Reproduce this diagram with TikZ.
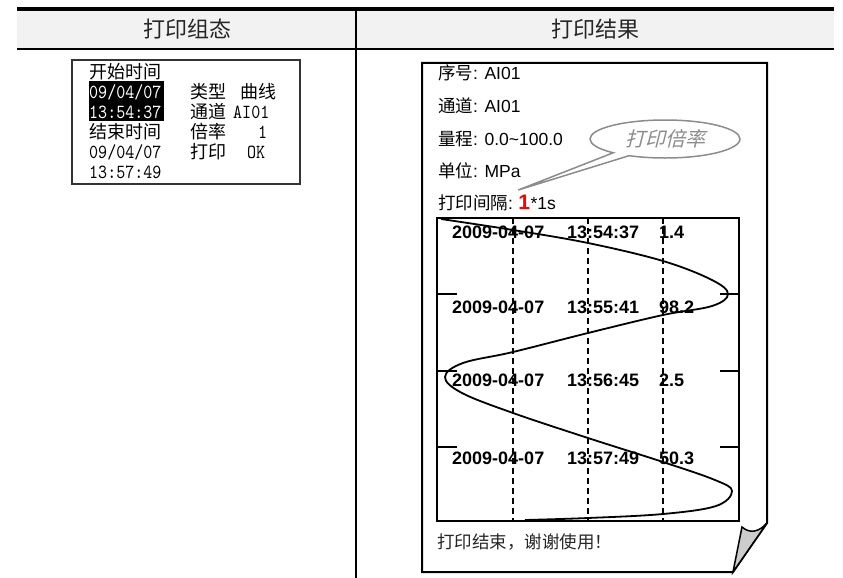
\documentclass[tikz,border=0pt]{standalone}
\usepackage{fontspec}
\setmainfont{Liberation Sans}
\newfontfamily\cjk{Noto Sans CJK SC}
\newfontfamily\cjkslant[FakeSlant=0.25]{Noto Sans CJK SC}
\newfontfamily\lcdmono{lmmono10-regular}[Extension=.otf, FakeStretch=0.86]
\usetikzlibrary{positioning,shapes.callouts}
\definecolor{headgray}{HTML}{F2F2F2}
\definecolor{callgray}{HTML}{8C8C8C}

\begin{document}
\begin{tikzpicture}[x=1pt, y=-1pt,
    lcd/.style={anchor=west, inner sep=0pt, font=\fontsize{20}{20}\lcdmono},
    lcdcn/.style={anchor=west, inner sep=0pt, font=\fontsize{18}{18}\cjk},
    line/.style={anchor=west, inner sep=0pt, font=\fontsize{17.5}{18}\selectfont},
    row/.style={anchor=west, inner sep=0pt, font=\fontsize{18}{18}\bfseries},
    tick/.style={line width=1.6pt}]
    \useasboundingbox (0,0) rectangle (843,578);
    % table head
    \fill[headgray] (17,10) rectangle (834,48);
    \draw[line width=3.5pt] (17,9) -- (834,9);
    \draw[line width=2.5pt] (17,49) -- (834,49);
    \draw[line width=2pt] (356,9) -- (356,578);
    \node[font=\fontsize{22}{22}\cjk, text=black!85] (setup) at (187,29) {打印组态};
    \node[font=\fontsize{22}{22}\cjk, text=black!85] (result) at (595,29) {打印结果};
    % the screen
    \draw[line width=2.5pt, draw=black!80] (72,60) rectangle (300,184);
    \fill (89,81) rectangle (164,121);
    \node[lcdcn] (start) at (89,72) {开始时间};
    \node[lcd, text=white] (sdate) at (89,92) {09/04/07};
    \node[lcd, text=white] (stime) at (89,112) {13:54:37};
    \node[lcdcn] (end) at (89,132) {结束时间};
    \node[lcd] (edate) at (89,152) {09/04/07};
    \node[lcd] (etime) at (89,172) {13:57:49};
    \node[lcdcn] (type) at (190,92) {类型};
    \node[lcdcn] (curve) at (240,92) {曲线};
    \node[lcdcn] (chan) at (190,112) {通道};
    \node[lcd] (chanval) at (233,112) {AI01};
    \node[lcdcn] (rate) at (190,132) {倍率};
    \node[lcd] (rateval) at (258,132) {1};
    \node[lcdcn] (print) at (190,152) {打印};
    \node[lcd] (printval) at (247,152) {OK};
    % the printed sheet, corner curled
    \draw[line width=2pt] (422,63) -- (767,63) -- (767,523) -- (733,572) -- (422,572) -- cycle;
    \filldraw[line width=1.5pt, fill=black!20] (742,527) .. controls (750,534) and (759,532) .. (767,523) -- (733,572) -- cycle;
    \node[line] (no) at (438,73) {{\cjk 序号}: AI01};
    \node[line] (chan2) at (438,106) {{\cjk 通道}: AI01};
    \node[line] (range) at (438,139) {{\cjk 量程}: 0.0\char`\~100.0};
    \node[line] (unitline) at (438,171) {{\cjk 单位}: MPa};
    \node[line] (gap) at (438,203) {{\cjk 打印间隔}:};
    \node[base right=5pt of gap, inner sep=0pt, text=red, font=\fontsize{21}{21}\bfseries] (one) {1};
    \node[base right=0pt of one, inner sep=0pt, font=\fontsize{17.5}{18}\selectfont] (unit) {*1s};
    \node[ellipse callout, draw=callgray, line width=1.5pt, fill=white,
      minimum width=150pt, minimum height=38pt, inner sep=0pt,
      callout absolute pointer={([yshift=5pt]one.north west)},
      text=callgray, font=\fontsize{20}{20}\cjkslant] (ratio) at (665,139) {打印倍率};
    % chart
    \draw[line width=2pt] (437,218) rectangle (739,521);
    \foreach \y in {294,371,447} {
      \draw[tick] (437,\y) -- (457,\y);
      \draw[tick] (720,\y) -- (739,\y);
    }
    \foreach \x in {513,588,663}
      \draw[line width=1.8pt, dash pattern=on 6pt off 4pt] (\x,218) -- (\x,521);
    \foreach \y/\d/\t/\v in {232/2009-04-07/13:54:37/1.4, 307/2009-04-07/13:55:41/98.2,
        380/2009-04-07/13:56:45/2.5, 458/2009-04-07/13:57:49/50.3} {
      \node[row] (d\y) at (452,\y) {\d};
      \node[row] (t\y) at (567,\y) {\t};
      \node[row] (v\y) at (659,\y) {\v};
    }
    \draw[line width=1.8pt] plot[smooth, tension=0.6] coordinates {
      (441,219) (513,230) (588,243) (663,261) (712,280) (728,294) (712,306)
      (663,315) (588,333) (513,352) (463,363) (445,377) (462,393) (513,413)
      (588,438) (663,462) (715,480) (732,491) (716,506) (663,514) (588,518) (525,520)};
    \node[anchor=west, inner sep=0pt, font=\fontsize{17.5}{18}\cjk, text=black!85] (bye) at (437,542) {打印结束，谢谢使用！};
\end{tikzpicture}
\end{document}
